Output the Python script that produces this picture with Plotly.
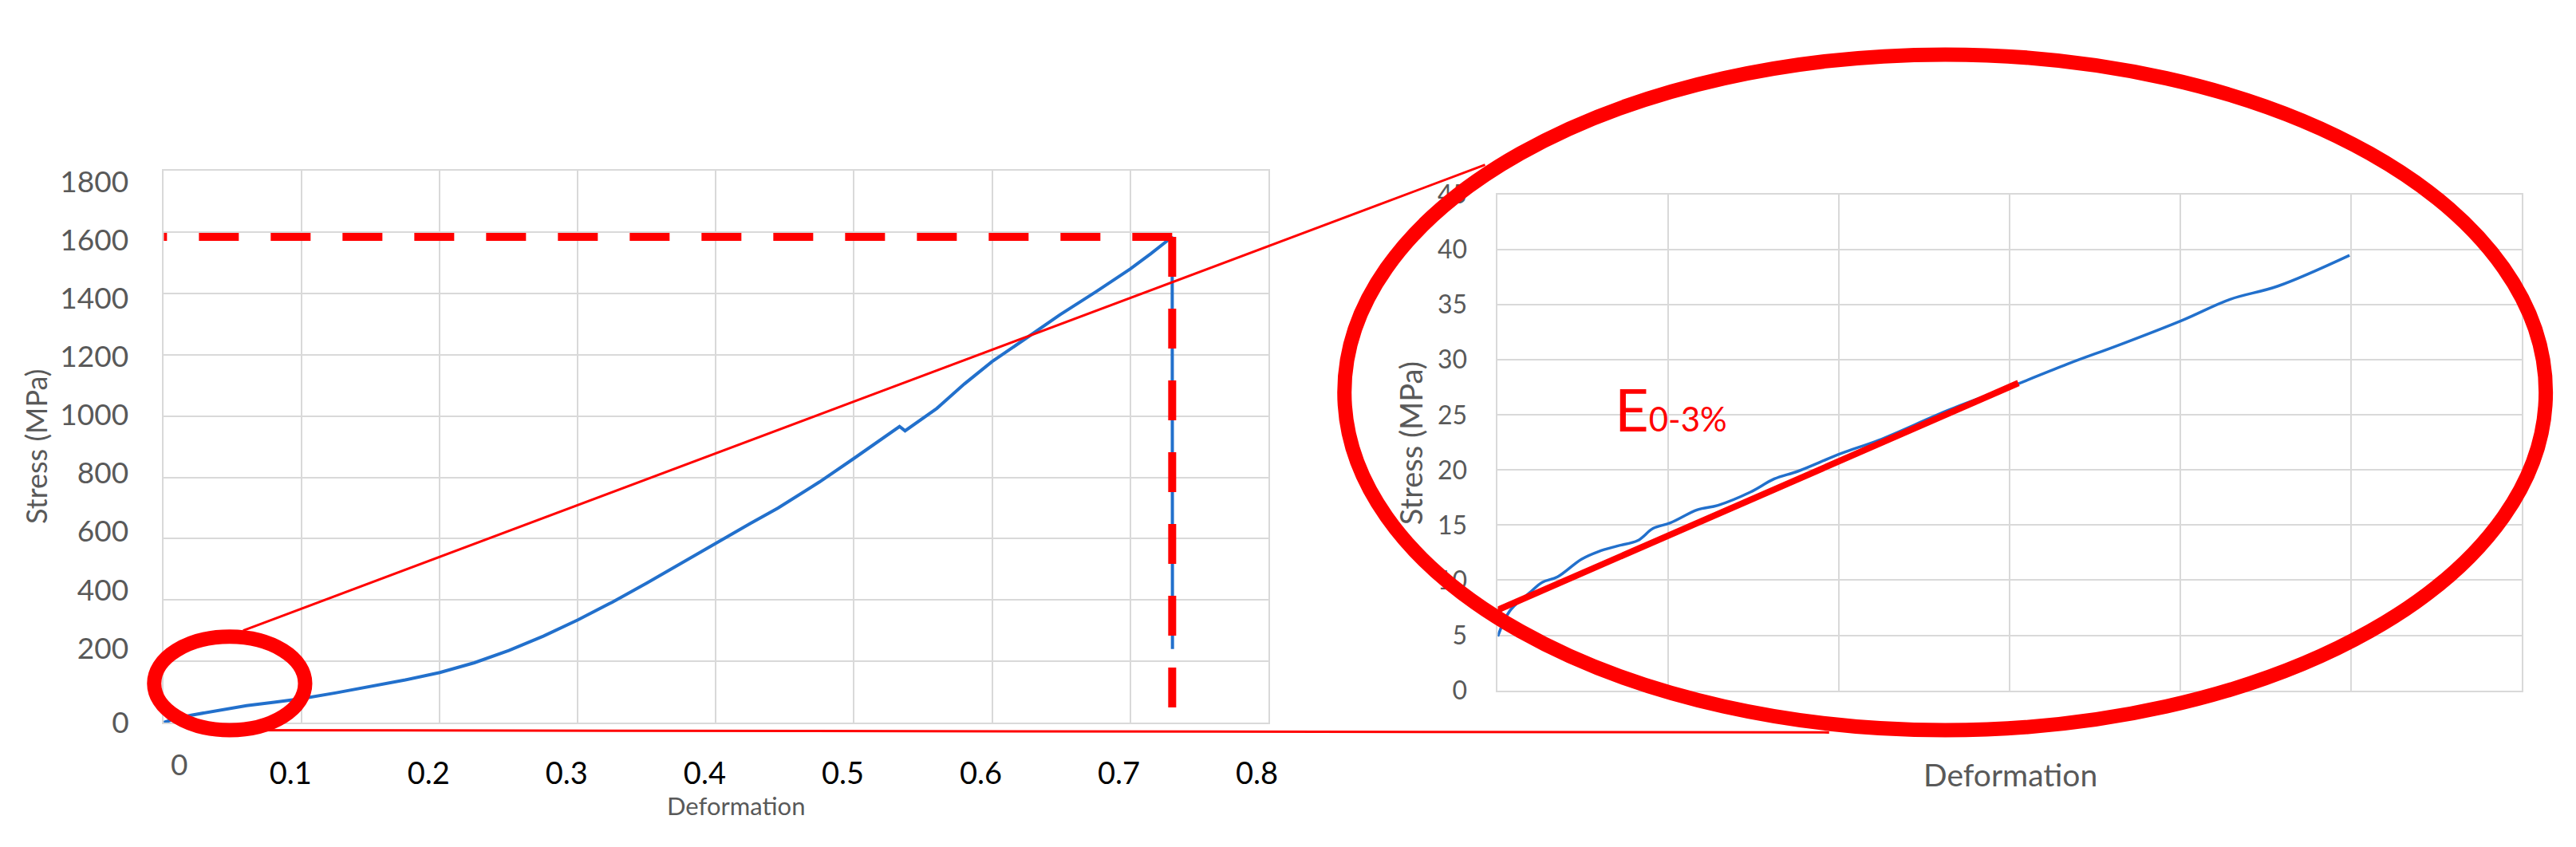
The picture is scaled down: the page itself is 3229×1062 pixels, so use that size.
import plotly.graph_objects as go

# full tensile test, deformation vs stress (MPa)
strain = [0, 0.01, 0.02, 0.04, 0.06, 0.08, 0.1, 0.125, 0.15, 0.175, 0.2, 0.225, 0.25, 0.275,
          0.3, 0.325, 0.35, 0.375, 0.4, 0.425, 0.445, 0.475, 0.5, 0.52, 0.533, 0.537,
          0.545, 0.56, 0.58, 0.6, 0.625, 0.649, 0.675, 0.7, 0.715, 0.725, 0.7305,
          0.7306, 0.7307]
stress = [0, 14, 24, 40, 55, 66, 78, 97, 118, 139, 163, 195, 235, 282,
          335, 393, 455, 520, 588, 650, 700, 785, 862, 925, 966, 952,
          978, 1025, 1105, 1178, 1255, 1330, 1405, 1480, 1530, 1565, 1585,
          900, 240]

# zoom on the first 5 % of deformation
zoom_strain = [0, 0.0007, 0.0019, 0.0026, 0.0035, 0.0049, 0.0059, 0.0070, 0.0082, 0.0091,
               0.0101, 0.0117, 0.0129, 0.0148, 0.0162, 0.0176, 0.0201, 0.0223, 0.0265,
               0.0301, 0.0335, 0.0363, 0.0401, 0.0429, 0.0457, 0.0499]
zoom_stress = [4.9, 7.2, 8.9, 9.8, 10.3, 11.9, 12.6, 13.1, 13.6, 14.7,
               15.2, 16.4, 16.8, 18.0, 19.2, 19.9, 21.5, 22.7, 25.5,
               27.6, 29.7, 31.3, 33.6, 35.5, 36.7, 39.5]

# E 0-3% line
modulus_strain = [0, 0.0305]
modulus_stress = [7.3, 27.9]

left_xticks = [0.1, 0.2, 0.3, 0.4, 0.5, 0.6, 0.7, 0.8]
left_yticks = [0, 200, 400, 600, 800, 1000, 1200, 1400, 1600, 1800]

W, H = 3229, 1062
BLUE = '#2270cc'
RED = '#ff0000'
GRID = '#d9d9d9'
GREY = '#595959'
FONT = 'Lato'


def px(x):
    return x / W


def py(y):
    return 1 - y / H


peak = stress.index(max(stress))
peak_x, peak_y = strain[peak], stress[peak]

fig = go.Figure()
fig.add_trace(go.Scatter(x=strain, y=stress, mode='lines',
                         line=dict(color=BLUE, width=4), xaxis='x', yaxis='y'))
# empty trace so the label-only axis gets drawn
fig.add_trace(go.Scatter(x=[], y=[], mode='lines', hoverinfo='skip', xaxis='x', yaxis='y3'))
fig.add_trace(go.Scatter(x=zoom_strain, y=zoom_stress, mode='lines',
                         line=dict(color=BLUE, width=3.5, shape='spline'),
                         xaxis='x2', yaxis='y2'))
fig.add_trace(go.Scatter(x=modulus_strain, y=modulus_stress, mode='lines',
                         line=dict(color=RED, width=8), xaxis='x2', yaxis='y2'))

common = dict(showgrid=True, gridcolor=GRID, gridwidth=2, showline=True, linecolor=GRID,
              linewidth=2, mirror=True, zeroline=False, ticks='')

ydom = [py(913), py(193)]
fig.update_layout(
    width=W, height=H, margin=dict(l=0, r=0, t=0, b=0),
    paper_bgcolor='white', plot_bgcolor='white', showlegend=False,
    font=dict(family=FONT, color=GREY),
    xaxis=dict(domain=[px(198), px(1588)], range=[0, 0.8], tickvals=left_xticks,
               ticktext=[str(v) for v in left_xticks],
               tickfont=dict(size=38, color='black'), ticklabelshift=-14,
               ticklabelstandoff=30, **common),
    # grid of the left panel, only the "0" label sits on it
    yaxis=dict(domain=ydom, range=[0, 1800], tickvals=left_yticks,
               ticktext=['0'] + [''] * (len(left_yticks) - 1),
               tickfont=dict(size=37, color=GREY), ticklabelstandoff=34, **common),
    # the pasted tick labels of the left panel are slightly off the grid
    yaxis3=dict(overlaying='y', anchor='x', side='left', range=[-54.9, 1836.9],
                tickvals=left_yticks[1:], showgrid=False, showline=False, zeroline=False,
                ticks='', tickfont=dict(size=37, color=GREY), ticklabelstandoff=43),
    xaxis2=dict(domain=[px(1877), px(3166)], range=[0, 0.06], dtick=0.01,
                showticklabels=False, anchor='y2', **common),
    yaxis2=dict(domain=[py(871), py(224)], range=[0, 45], dtick=5, anchor='x2',
                tickfont=dict(size=32, color=GREY), ticklabelstandoff=30, **common),
)


def note(text, x, y, size, color=GREY, angle=0, xanchor='center'):
    fig.add_annotation(text=text, x=px(x), y=py(y), xref='paper', yref='paper',
                       showarrow=False, textangle=angle, xanchor=xanchor, yanchor='middle',
                       font=dict(family=FONT, size=size, color=color))


note('Stress (MPa)', 37, 553, 36, angle=-90)
note('Deformation', 918, 1021, 31)
note('0', 217, 967, 37)
note('Stress (MPa)', 1767, 548, 38, angle=-90)
note('Deformation', 2522, 981, 39)
note("E<span style='font-size:42px'>0-3%</span>", 2022, 503, 74, color=RED, xanchor='left')

# thin zoom guide lines
fig.add_shape(type='line', xref='paper', yref='paper', x0=px(298), y0=py(793),
              x1=px(1861), y1=py(185), line=dict(color=RED, width=3))
fig.add_shape(type='line', xref='paper', yref='paper', x0=px(241), y0=py(923),
              x1=px(2294), y1=py(926), line=dict(color=RED, width=3))

# peak markers (dashed)
fig.add_shape(type='line', xref='x', yref='y', x0=peak_x, y0=peak_y, x1=0, y1=peak_y,
              line=dict(color=RED, width=10, dash='50px,40px'))
peak_paper = ydom[0] + peak_y / 1800 * (ydom[1] - ydom[0])
fig.add_shape(type='line', xref='x', yref='paper', x0=peak_x, y0=peak_paper, x1=peak_x,
              y1=py(928), line=dict(color=RED, width=10, dash='50px,40px'))

# ellipses
fig.add_shape(type='circle', xref='paper', yref='paper', x0=px(281 - 95), x1=px(281 + 95),
              y0=py(862 + 61), y1=py(862 - 61), line=dict(color=RED, width=18))
fig.add_shape(type='circle', xref='paper', yref='paper', x0=px(2440 - 756), x1=px(2440 + 756),
              y0=py(482 + 441), y1=py(482 - 441), line=dict(color=RED, width=18))

fig.write_html('out.html')
